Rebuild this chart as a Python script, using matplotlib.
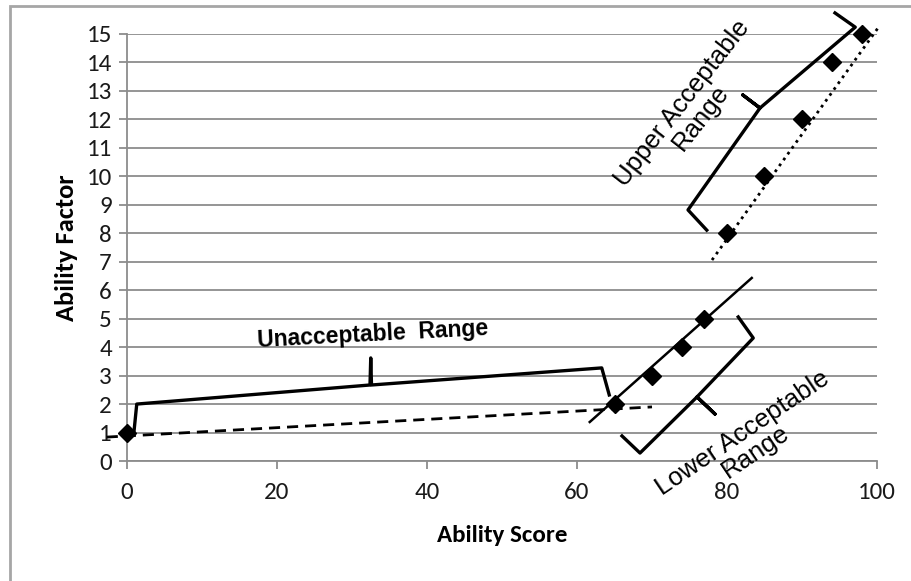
import matplotlib
matplotlib.use("Agg")
import matplotlib.pyplot as plt
from matplotlib.patches import Rectangle

# ---- data ----
scores = [0, 65, 70, 74, 77, 80, 85, 90, 94, 98]
factors = [1, 2, 3, 4, 5, 8, 10, 12, 14, 15]

# trend lines (endpoints in data units)
low_trend_x = [-2.7, 70]
low_trend_y = [0.84, 1.9]
mid_trend_x = [61.7, 83.3]
mid_trend_y = [1.37, 6.43]
up_trend_x = [78, 100.1]
up_trend_y = [7.06, 15.2]

# brackets (data units)
unacc_x = [0.9, 1.3, 32.4, 32.5, 32.6, 63.3, 64.3]
unacc_y = [0.95, 2.0, 2.67, 3.62, 2.67, 3.27, 2.32]
lower_x = [81.5, 83.5, 76.0, 78.4, 76.0, 68.4, 66.0]
lower_y = [5.06, 4.32, 2.25, 1.65, 2.25, 0.28, 0.88]
upper_x = [94.4, 97.1, 84.4, 82.1, 84.4, 74.8, 77.3]
upper_y = [15.74, 15.24, 12.4, 12.86, 12.4, 8.82, 8.11]

x_ticks = [0, 20, 40, 60, 80, 100]
y_ticks = list(range(0, 16))

label_font = ['Carlito', 'Lato', 'DejaVu Sans']
ann_font = ['Liberation Sans', 'DejaVu Sans']

fig = plt.figure(figsize=(9.11, 5.81), dpi=100)
fig.patches.append(Rectangle((10 / 911, -0.1), 2.0, (1 - 6 / 581) + 0.1,
                             transform=fig.transFigure, fill=False,
                             edgecolor='#a6a6a6', linewidth=2))
ax = fig.add_axes([127 / 911, 1 - 461 / 581, (877 - 127) / 911, (461 - 34) / 581])

grid_c = '#8c8c8c'
ax.set_xlim(0, 100)
ax.set_ylim(0, 15)
ax.set_xticks(x_ticks)
ax.set_yticks(y_ticks)
ax.yaxis.grid(True, color=grid_c, linewidth=1.3)
ax.set_axisbelow(True)
for s in ['top', 'right']:
    ax.spines[s].set_visible(False)
ax.spines['left'].set_color(grid_c)
ax.spines['bottom'].set_color(grid_c)
ax.spines['left'].set_linewidth(1.3)
ax.spines['bottom'].set_linewidth(1.3)
ax.tick_params(axis='both', colors=grid_c, length=6, width=1.3, labelcolor='#1a1a1a',
               labelsize=18)
ax.tick_params(axis='x', pad=9)
ax.tick_params(axis='y', pad=5)
for lab in ax.get_xticklabels() + ax.get_yticklabels():
    lab.set_family(label_font)

ax.set_xlabel('Ability Score', fontsize=18, fontweight='bold', family=label_font,
              labelpad=16)
ax.set_ylabel('Ability Factor', fontsize=19, fontweight='bold', family=label_font,
              labelpad=6)

# trend lines
ax.plot(low_trend_x, low_trend_y, color='black', linestyle=(0, (4, 2.5)), linewidth=2,
        clip_on=False)
ax.plot(mid_trend_x, mid_trend_y, color='black', linestyle='-', linewidth=1.8,
        clip_on=False)
ax.plot(up_trend_x, up_trend_y, color='black', linestyle=(0, (1, 1.6)), linewidth=2,
        clip_on=False)

# data points
ax.plot(scores, factors, linestyle='none', marker='D', markersize=9,
        color='black', clip_on=False, zorder=5)

# brackets
for bx, by in [(unacc_x, unacc_y), (lower_x, lower_y), (upper_x, upper_y)]:
    ax.plot(bx, by, color='black', linewidth=2.4, solid_joinstyle='round',
            clip_on=False, zorder=4)

# labels
ax.text(32.8, 4.45, 'Unacceptable  Range', fontsize=16.5, fontweight='bold',
        family=ann_font, rotation=3, ha='center', va='center')
ax.text(83.0, 0.65, 'Lower Acceptable\nRange', fontsize=18.5, family=ann_font,
        rotation=34, ha='center', va='center', linespacing=0.95,
        rotation_mode='anchor')
ax.text(75.3, 12.3, 'Upper Acceptable\nRange', fontsize=18.5, family=ann_font,
        rotation=52, ha='center', va='center', linespacing=0.95,
        rotation_mode='anchor')

fig.savefig('out.png', dpi=100)
